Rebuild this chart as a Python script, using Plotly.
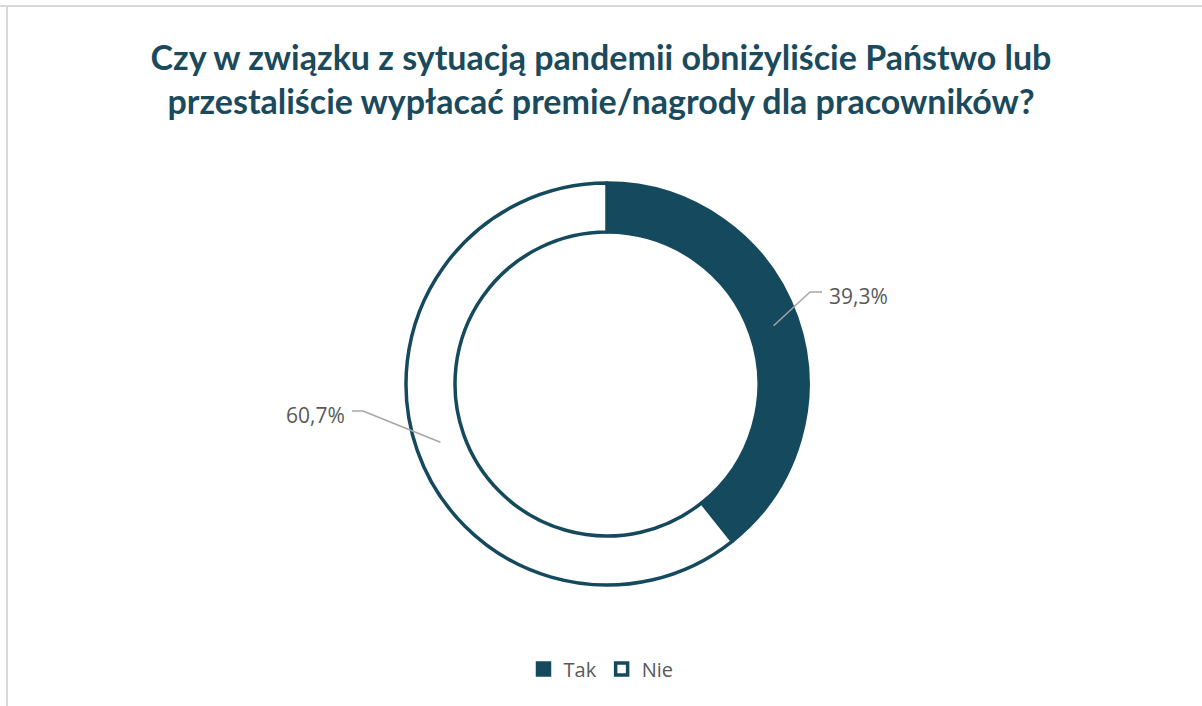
import math
import plotly.graph_objects as go

W, H = 1202, 706

# dane
odpowiedzi = ["Tak", "Nie"]
udzialy = [39.3, 60.7]
etykiety = ["39,3%", "60,7%"]

KOLOR = "#154A5E"
SZARY = "#595959"

# geometria pierścienia (px)
cx, cy = 607, 384
r_out, r_in = 201, 152


def px(x, y):
    return x / W, 1 - y / H


fig = go.Figure(go.Pie(
    labels=odpowiedzi,
    values=udzialy,
    hole=r_in / r_out,
    sort=False,
    direction="clockwise",
    rotation=0,
    textinfo="none",
    marker=dict(colors=[KOLOR, "#FFFFFF"], line=dict(color=KOLOR, width=3.5)),
    domain=dict(x=[(cx - r_out) / W, (cx + r_out) / W],
                y=[1 - (cy + r_out) / H, 1 - (cy - r_out) / H]),
    hoverinfo="label+percent",
))

# ramka wykresu i linie odniesienia do etykiet
shapes = [
    dict(type="line", xref="paper", yref="paper", x0=0, y0=1 - 6 / H, x1=1, y1=1 - 6 / H,
         line=dict(color="#D9D9D9", width=2)),
    dict(type="line", xref="paper", yref="paper", x0=7 / W, y0=0, x1=7 / W, y1=1 - 6 / H,
         line=dict(color="#D9D9D9", width=2)),
]
annotations = []
suma = sum(udzialy)
start = 0
r_mid = (r_out + r_in) / 2
for i, v in enumerate(udzialy):
    kat = math.radians((start + v / 2) / suma * 360)
    start += v
    ax = cx + r_mid * math.sin(kat)
    ay = cy - r_mid * math.cos(kat)
    if math.sin(kat) > 0:
        kx, ky = 810, 292
        ex = kx + 12
        tx, anchor = ex + 5, "left"
    else:
        kx, ky = 363, 411
        ex = kx - 11
        tx, anchor = ex - 5, "right"
    for (x0, y0, x1, y1) in [(ax, ay, kx, ky), (kx, ky, ex, ky)]:
        a, b = px(x0, y0)
        c, d = px(x1, y1)
        shapes.append(dict(type="line", xref="paper", yref="paper", x0=a, y0=b, x1=c, y1=d,
                           line=dict(color="#A6A6A6", width=1.5)))
    tx_p, ty_p = px(tx, ky + 4)
    annotations.append(dict(xref="paper", yref="paper", x=tx_p, y=ty_p, text=etykiety[i],
                            showarrow=False, xanchor=anchor, yanchor="middle",
                            font=dict(size=21, color=SZARY, family="Open Sans")))

fig.update_layout(
    width=W, height=H,
    margin=dict(l=0, r=0, t=0, b=0),
    paper_bgcolor="white",
    title=dict(
        text="<b>Czy w związku z sytuacją pandemii obniżyliście Państwo lub<br>"
             "przestaliście wypłacać premie/nagrody dla pracowników?</b>",
        x=0.5, xanchor="center", y=1 - 70 / H, yanchor="middle",
        font=dict(size=34, color="#1A4A5C", family="Lato"),
    ),
    shapes=shapes,
    annotations=annotations,
    showlegend=True,
    legend=dict(orientation="h", x=0.5, xanchor="center", y=1 - 669 / H, yanchor="middle",
                font=dict(size=20, color=SZARY, family="Open Sans"), itemclick=False,
                itemwidth=30),
)

fig.write_html("out.html", config={"displayModeBar": False},
               post_script="document.body.style.margin='0';")
